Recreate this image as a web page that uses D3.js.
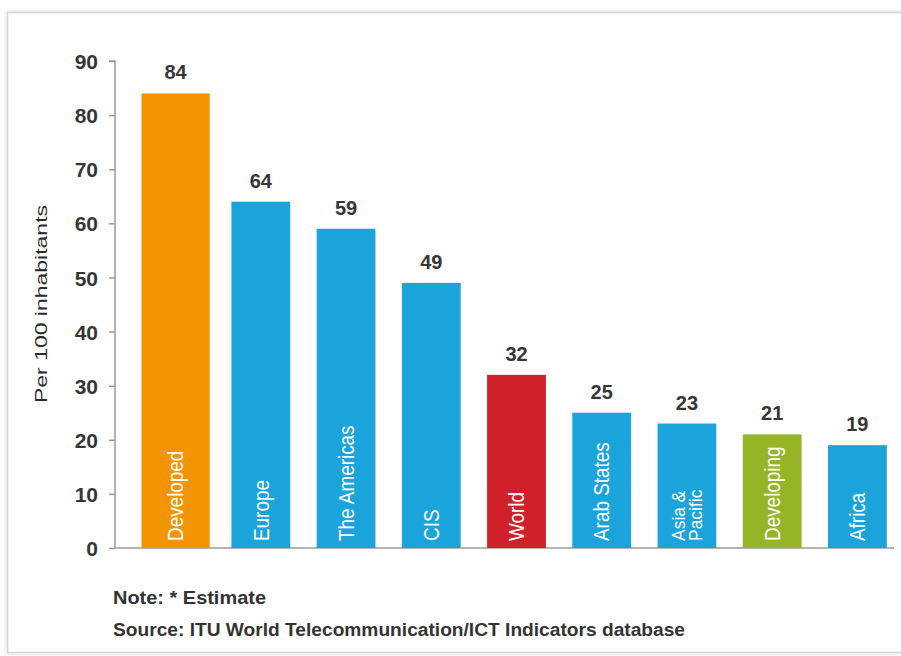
<!DOCTYPE html>
<html><head><meta charset="utf-8">
<script src="https://cdn.jsdelivr.net/npm/d3@7"></script>
<style>
html,body{margin:0;padding:0;background:#fff;}
svg{display:block;}
</style></head>
<body>
<svg id="chart" width="901" height="656"></svg>
<script>
const categories = ["Developed","Europe","The Americas","CIS","World","Arab States","Asia & Pacific","Developing","Africa"];
const values = [84,64,59,49,32,25,23,21,19];
const groups = ["developed","region","region","region","world","region","region","developing","region"];
const yTicks = [0,10,20,30,40,50,60,70,80,90];
const yTitle = "Per 100 inhabitants";
const noteLines = ["Note: * Estimate","Source: ITU World Telecommunication/ICT Indicators database"];

const colors = {developed:"#F29400", region:"#1BA3DB", world:"#D0202A", developing:"#95B526"};

const svg = d3.select("#chart");

// frame
const defs = svg.append("defs");
const f = defs.append("filter").attr("id","sh").attr("x","-5%").attr("y","-5%").attr("width","110%").attr("height","110%");
f.append("feDropShadow").attr("dx",0).attr("dy",0).attr("stdDeviation",2).attr("flood-color","#000").attr("flood-opacity",0.18);
svg.append("rect").attr("x",7.5).attr("y",12.5).attr("width",905).attr("height",640)
  .attr("fill","#fff").attr("stroke","#d4d4d4").attr("stroke-width",1.5).attr("filter","url(#sh)");

const y = d3.scaleLinear().domain([0,90]).range([548,61]);
const x = d3.scaleBand().domain(categories).range([133,900]).padding(0);

// y axis
const yAxis = d3.axisLeft(y).tickValues(yTicks).tickSize(6).tickPadding(11);
const gy = svg.append("g").attr("transform","translate(115,0)").call(yAxis);
gy.select(".domain").attr("stroke","#9a9a9a").attr("stroke-width",1.5).attr("d","M-6,61H0V548");
gy.selectAll(".tick line").attr("stroke","#9a9a9a").attr("stroke-width",1.5);
gy.selectAll(".tick text").attr("fill","#363636").attr("font-family","Liberation Sans, Arial, sans-serif")
  .attr("font-weight","bold").attr("font-size",21).attr("dy","0.36em");

// baseline
svg.append("line").attr("x1",115).attr("x2",894).attr("y1",y(0)).attr("y2",y(0))
  .attr("stroke","#9a9a9a").attr("stroke-width",1.5);

// y title
svg.append("text").attr("transform",`translate(47,${(205+403)/2}) rotate(-90)`)
  .attr("text-anchor","middle").attr("font-family","Liberation Sans, Arial, sans-serif")
  .attr("font-size",16).attr("fill","#2a2a2a").attr("textLength",198).attr("lengthAdjust","spacingAndGlyphs")
  .text(yTitle);

// bars
const bw = i => x.bandwidth()*(i===0?0.8:0.69);
const bars = svg.append("g");
categories.forEach((c,i)=>{
  const cx = x(c)+x.bandwidth()/2;
  const w = bw(i);
  bars.append("rect").attr("x",cx-w/2).attr("width",w)
    .attr("y",y(values[i])).attr("height",y(0)-y(values[i]))
    .attr("fill",colors[groups[i]]);
  bars.append("text").attr("x",cx).attr("y",y(values[i])-14)
    .attr("text-anchor","middle").attr("font-family","Liberation Sans, Arial, sans-serif")
    .attr("font-weight","bold").attr("font-size",20).attr("fill","#363636").text(values[i]);
  // inner rotated label
  const two = c==="Asia & Pacific";
  const parts = two ? ["Asia &","Pacific"] : [c];
  const t = bars.append("text")
    .attr("transform",`translate(${cx},${y(0)-7}) rotate(-90) scale(${two?0.92:0.86},1)`)
    .attr("font-family","Liberation Sans, Arial, sans-serif").attr("font-size",two?19:22).attr("fill","#fff");
  const n = parts.length;
  parts.forEach((p,k)=>{
    t.append("tspan").attr("x",0).attr("y",(k-(n-1)/2)*17).attr("dy","0.35em").text(p);
  });
});

// notes
svg.append("text").attr("x",113).attr("y",604).attr("font-family","Liberation Sans, Arial, sans-serif")
  .attr("font-weight","bold").attr("font-size",18).attr("fill","#333")
  .attr("textLength",153).attr("lengthAdjust","spacingAndGlyphs").text(noteLines[0]);
svg.append("text").attr("x",113).attr("y",636).attr("font-family","Liberation Sans, Arial, sans-serif")
  .attr("font-weight","bold").attr("font-size",18).attr("fill","#333")
  .attr("textLength",572).attr("lengthAdjust","spacingAndGlyphs").text(noteLines[1]);
</script>
</body></html>
